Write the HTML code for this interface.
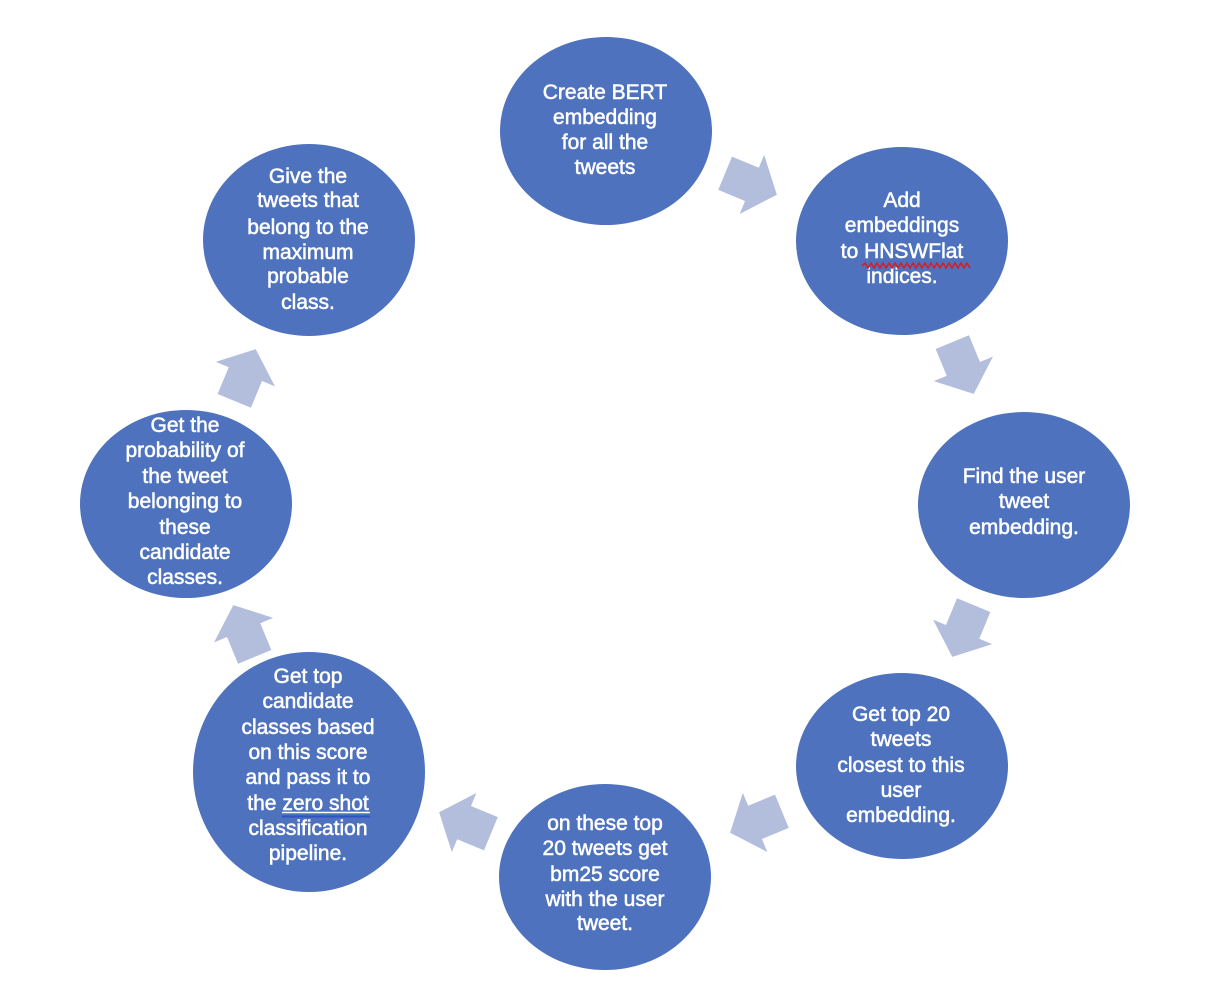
<!DOCTYPE html>
<html>
<head>
<meta charset="utf-8">
<style>
  html,body{margin:0;padding:0;background:#ffffff;}
  svg{display:block;}
  text{font-family:"Liberation Sans",sans-serif;font-size:21px;fill:#ffffff;text-anchor:middle;stroke:#ffffff;stroke-width:0.55px;}
</style>
</head>
<body>
<svg width="1224" height="990" viewBox="0 0 1224 990" xmlns="http://www.w3.org/2000/svg">
  <defs>
    <polygon id="arr" points="-28,-18 1,-18 1,-32 28,0 1,32 1,18 -28,18" fill="#B3BEDD"/>
  </defs>

  <!-- arrows -->
  <use href="#arr" transform="translate(751,184) rotate(22.5)"/>
  <use href="#arr" transform="translate(963,368) rotate(67.5)"/>
  <use href="#arr" transform="translate(963,631) rotate(112.5)"/>
  <use href="#arr" transform="translate(756,822) rotate(157.5)"/>
  <use href="#arr" transform="translate(465,823) rotate(202.5)"/>
  <use href="#arr" transform="translate(244,631) rotate(247.5)"/>
  <use href="#arr" transform="translate(245,375) rotate(292.5)"/>

  <!-- circles -->
  <g fill="#4E72BE">
    <ellipse cx="606" cy="131" rx="106" ry="94"/>
    <ellipse cx="902" cy="241" rx="106" ry="94"/>
    <ellipse cx="1024" cy="505" rx="106" ry="93"/>
    <ellipse cx="902" cy="766" rx="106" ry="93"/>
    <ellipse cx="605" cy="877" rx="106" ry="93"/>
    <ellipse cx="309" cy="772" rx="116" ry="120"/>
    <ellipse cx="186" cy="504" rx="106" ry="94"/>
    <ellipse cx="309" cy="240" rx="106" ry="96"/>
  </g>

  <!-- node 1 -->
  <text x="605" y="99">Create BERT</text>
  <text x="605" y="124">embedding</text>
  <text x="605" y="149">for all the</text>
  <text x="605" y="174">tweets</text>

  <!-- node 2 -->
  <text x="902" y="207">Add</text>
  <text x="902" y="232">embeddings</text>
  <text x="902" y="258">to HNSWFlat</text>
  <text x="902" y="283">indices.</text>
  <polyline points="862,266 865,263 868,268 871,263 874,268 877,263 880,268 883,263 886,268 889,263 892,268 895,263 898,268 901,263 904,268 907,263 910,268 913,263 916,268 919,263 922,268 925,263 928,268 931,263 934,268 937,263 940,268 943,263 946,268 949,263 952,268 955,263 958,268 961,263 964,268 967,263 970,268" fill="none" stroke="#D0202A" stroke-width="1.6"/>

  <!-- node 3 -->
  <text x="1024" y="483">Find the user</text>
  <text x="1024" y="508">tweet</text>
  <text x="1024" y="534">embedding.</text>

  <!-- node 4 -->
  <text x="901" y="721">Get top 20</text>
  <text x="901" y="746">tweets</text>
  <text x="901" y="772">closest to this</text>
  <text x="901" y="797">user</text>
  <text x="901" y="822">embedding.</text>

  <!-- node 5 -->
  <text x="605" y="830">on these top</text>
  <text x="605" y="855">20 tweets get</text>
  <text x="605" y="881">bm25 score</text>
  <text x="605" y="906">with the user</text>
  <text x="605" y="930">tweet.</text>

  <!-- node 6 -->
  <text x="308" y="683">Get top</text>
  <text x="308" y="708">candidate</text>
  <text x="308" y="734">classes based</text>
  <text x="308" y="759">on this score</text>
  <text x="308" y="784">and pass it to</text>
  <text x="308" y="810">the zero shot</text>
  <text x="308" y="835">classification</text>
  <text x="308" y="860">pipeline.</text>
  <line x1="282" y1="812.5" x2="370" y2="812.5" stroke="#ffffff" stroke-width="1.5"/>
  <line x1="282" y1="816.5" x2="370" y2="816.5" stroke="#2F52C4" stroke-width="2"/>

  <!-- node 7 -->
  <text x="185" y="432">Get the</text>
  <text x="185" y="457">probability of</text>
  <text x="185" y="483">the tweet</text>
  <text x="185" y="508">belonging to</text>
  <text x="185" y="534">these</text>
  <text x="185" y="559">candidate</text>
  <text x="185" y="584">classes.</text>

  <!-- node 8 -->
  <text x="308" y="183">Give the</text>
  <text x="308" y="207">tweets that</text>
  <text x="308" y="234">belong to the</text>
  <text x="308" y="259">maximum</text>
  <text x="308" y="283">probable</text>
  <text x="308" y="309">class.</text>
</svg>
</body>
</html>
